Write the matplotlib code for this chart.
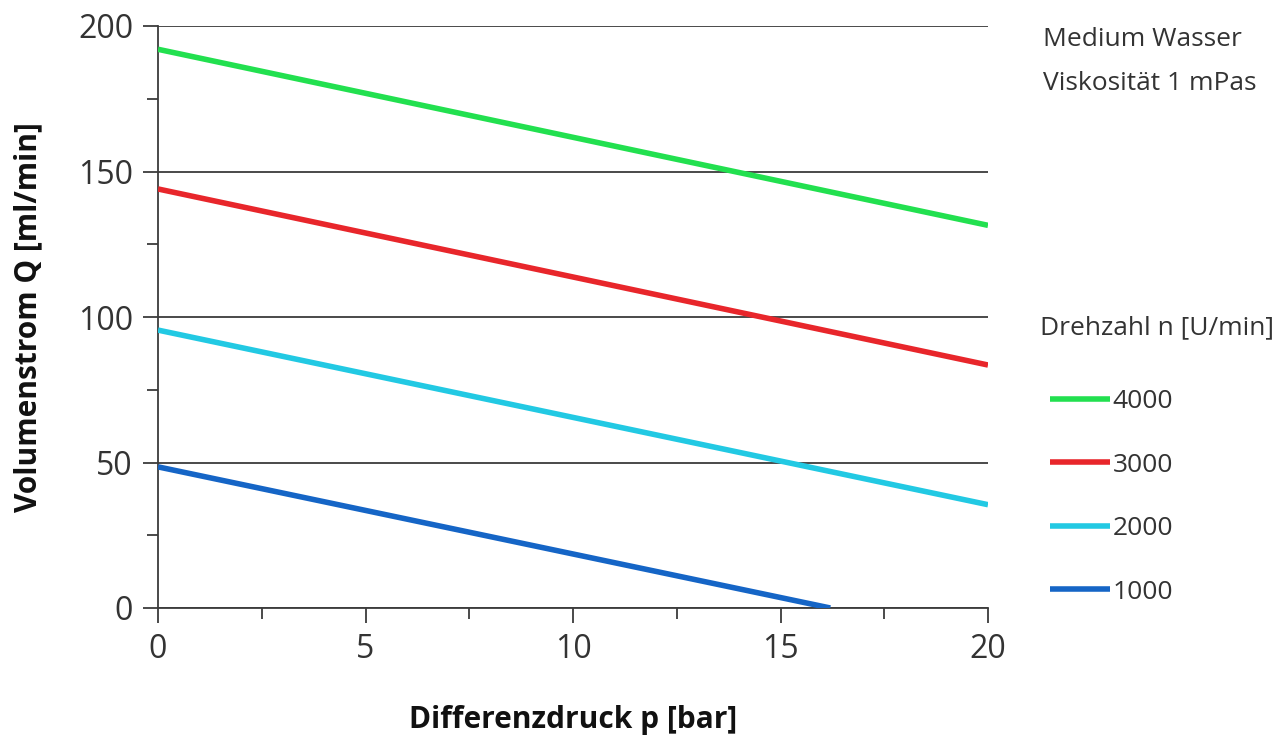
import matplotlib
matplotlib.use("Agg")
import matplotlib.pyplot as plt
from matplotlib.ticker import MultipleLocator

plt.rcParams["font.family"] = ["Open Sans", "DejaVu Sans"]

# Pumpenkennlinien: Differenzdruck [bar] -> Volumenstrom [ml/min]
drehzahl = ["4000", "3000", "2000", "1000"]
p_values = [[0, 20], [0, 20], [0, 20], [0, 16.2]]
q_values = [[192, 131.5], [144, 83.5], [95.5, 35.5], [48.5, 0]]
farben = ["#22e04f", "#e8262b", "#22c9e3", "#1565c6"]

fig = plt.figure(figsize=(12.87, 7.35), dpi=100)
ax = fig.add_axes([158 / 1287, 1 - 608 / 735, 830 / 1287, 582 / 735])

grid_col = "#3c3c3c"
for i in range(len(drehzahl)):
    ax.plot(p_values[i], q_values[i], color=farben[i], lw=4,
            solid_capstyle="butt", label=drehzahl[i], zorder=3, clip_on=True)

ax.set_xlim(0, 20)
ax.set_ylim(0, 200)
ax.xaxis.set_major_locator(MultipleLocator(5))
ax.xaxis.set_minor_locator(MultipleLocator(2.5))
ax.yaxis.set_major_locator(MultipleLocator(50))
ax.yaxis.set_minor_locator(MultipleLocator(25))
ax.yaxis.grid(True, which="major", color=grid_col, lw=1.3)
ax.set_axisbelow(True)

for s in ["top", "right"]:
    ax.spines[s].set_visible(False)
for s in ["left", "bottom"]:
    ax.spines[s].set_color(grid_col)
    ax.spines[s].set_linewidth(1.3)

ax.tick_params(axis="both", which="major", direction="out", length=11,
               width=1.3, color=grid_col, labelsize=23, labelcolor="#333333", pad=7)
ax.tick_params(axis="both", which="minor", direction="out", length=8,
               width=1.3, color=grid_col)

ax.set_xlabel("Differenzdruck p [bar]", fontsize=21.5, fontweight="bold",
              labelpad=28, color="#111111")
ax.set_ylabel("Volumenstrom Q [ml/min]", fontsize=21.5, fontweight="bold",
              labelpad=25, color="#111111")

fig.text(1043 / 1287, 1 - 39 / 735, "Medium Wasser", fontsize=19,
         color="#333333", va="center")
fig.text(1043 / 1287, 1 - 83 / 735, "Viskosität 1 mPas", fontsize=19,
         color="#333333", va="center")
fig.text(1040 / 1287, 1 - 328 / 735, "Drehzahl n [U/min]", fontsize=19,
         color="#333333", va="center")

leg = ax.legend(loc="upper left", bbox_to_anchor=(1050 / 1287, 1 - 389 / 735),
                bbox_transform=fig.transFigure, frameon=False, fontsize=19,
                handlelength=2.27, handletextpad=0.1, labelspacing=1.46,
                borderpad=0, borderaxespad=0)
for t in leg.get_texts():
    t.set_color("#333333")

fig.savefig("out.png", dpi=100)
